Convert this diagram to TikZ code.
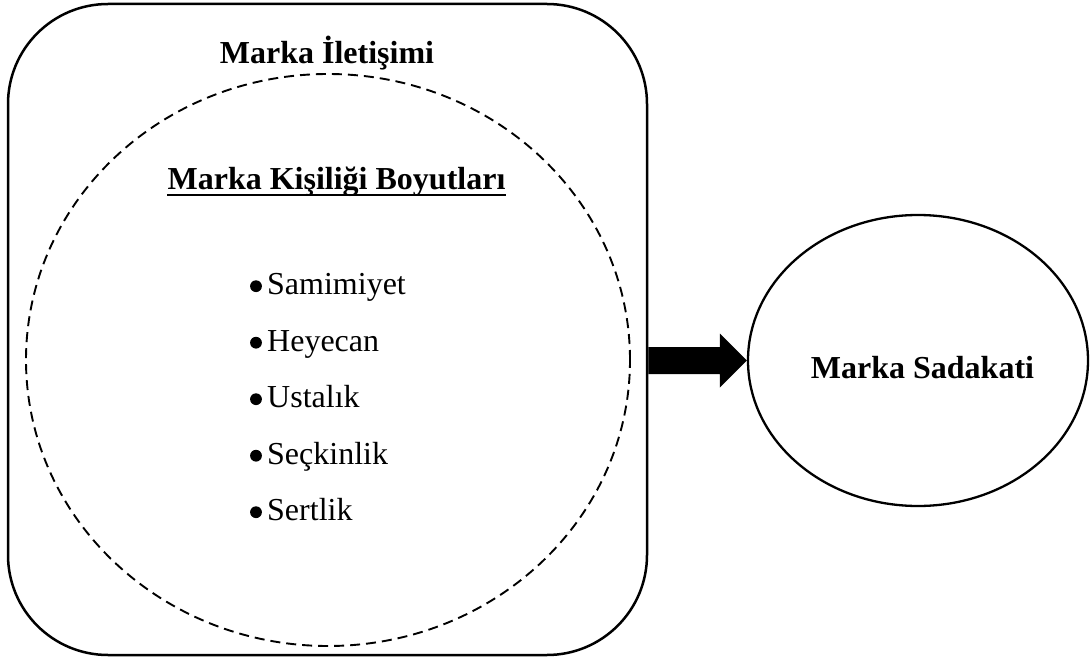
\documentclass[tikz,border=0pt]{standalone}
\usepackage{fontspec}
\setmainfont{Liberation Serif}
\usetikzlibrary{shapes.geometric,calc}
\begin{document}
\begin{tikzpicture}[x=1pt,y=-1pt,
  txt/.style={font=\fontsize{32}{38}\selectfont, inner sep=0pt, anchor=base},
  btxt/.style={inner sep=0pt, anchor=base, font=\fontsize{32}{38}\selectfont\bfseries},
  item/.style={txt, anchor=base west},
  frame/.style={draw, line width=2.5pt, rounded corners=100pt, inner sep=0pt},
  dashell/.style={ellipse, draw, line width=1.9pt, dash pattern=on 10pt off 6pt, inner sep=0pt},
  solell/.style={ellipse, draw, line width=2.3pt, inner sep=0pt}
]
\useasboundingbox (0,0) rectangle (1090,666);
\node[frame, minimum width=639pt, minimum height=651pt] (box) at (327.5,329.5) {};
\node[dashell, minimum width=604pt, minimum height=572pt] (dim) at (328,360) {};
\node[solell, minimum width=340pt, minimum height=291pt] (sad) at (918,360.5) {};

\node[btxt] (il) at (327,64) {Marka İletişimi};
\node[btxt] (kb) at (336.5,189.5) {Marka Kişiliği Boyutları};
\draw[line width=2.2pt] ($(kb.base west)+(0,5.5)$) -- ($(kb.base east)+(0,5.5)$);

\node[item] (i1) at (267,294.5) {Samimiyet};
\node[item] (i2) at (267,351) {Heyecan};
\node[item] (i3) at (267,407.5) {Ustalık};
\node[item] (i4) at (267,464) {Seçkinlik};
\node[item] (i5) at (267,520.5) {Sertlik};
\foreach \i in {i1,i2,i3,i4,i5}
  \fill ($(\i.base west)+(-11,-8.3)$) circle (5.9);

\node[btxt] (st) at (922.5,378) {Marka Sadakati};

\coordinate (as) at (box.east |- sad.west);
\coordinate (at) at (sad.west);
\fill ($(as)+(0,-13.5)$) -- ($(at)+(-27,-13.5)$) -- ($(at)+(-27,-27)$) -- (at)
  -- ($(at)+(-27,27)$) -- ($(at)+(-27,13.5)$) -- ($(as)+(0,13.5)$) -- cycle;
\end{tikzpicture}
\end{document}
